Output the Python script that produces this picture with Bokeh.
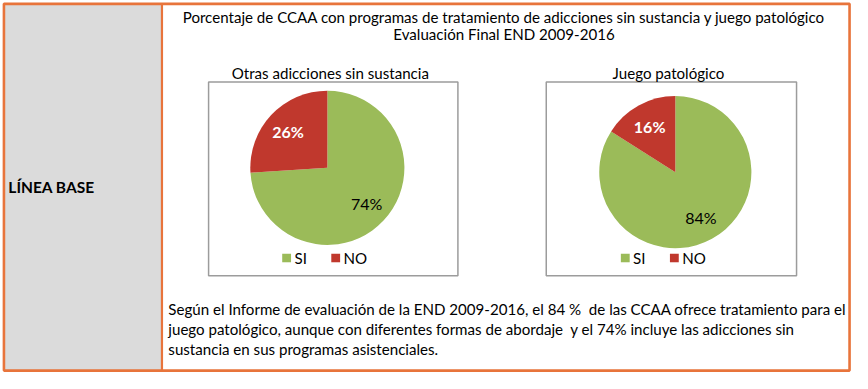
import math
from bokeh.plotting import figure
from bokeh.models import Range1d
from bokeh.core.properties import value
from bokeh.embed import file_html
from bokeh.resources import INLINE

# ---- data ----
categories = ["SI", "NO"]
otras_values = [74, 26]
juego_values = [84, 16]
chart_titles = ["Otras adicciones sin sustancia", "Juego patológico"]
colors = ["#9BBB59", "#C0382D"]
label_colors = ["#000000", "#FFFFFF"]
label_styles = ["normal", "bold"]
main_title = ["Porcentaje de CCAA con programas de tratamiento de adicciones sin sustancia y juego patológico",
              "Evaluación Final END 2009-2016"]
row_label = "LÍNEA BASE"
paragraph = ["Según el Informe de evaluación de la END 2009-2016, el 84 %\u00a0 de las CCAA ofrece tratamiento para el",
             "juego patológico, aunque con diferentes formas de abordaje\u00a0 y el 74% incluye las adicciones sin",
             "sustancia en sus programas asistenciales."]

FONT = "Lato"
RW, RH = 868, 389          # reference coordinate space
W, H = 852, 373            # figure size in pixels
FS = 15.1

p = figure(width=W, height=H, output_backend="svg", toolbar_location=None,
           x_range=Range1d(0, RW), y_range=Range1d(0, RH), min_border=0)
p.axis.visible = False
p.grid.visible = False
p.outline_line_color = None
p.background_fill_color = "white"

def Y(y):
    return RH - y

ORANGE = "#E8743B"
# left grey cell
p.quad(left=[4], right=[164], top=[Y(4)], bottom=[Y(386)], fill_color="#DBDBDB", line_color=None)
# borders
p.quad(left=[3.5], right=[865], top=[Y(3.5)], bottom=[Y(386)], fill_color=None,
       line_color=ORANGE, line_width=2.6)
p.segment(x0=[164.5], y0=[Y(3.5)], x1=[164.5], y1=[Y(386)], line_color=ORANGE, line_width=2.2)

def txt(x, y, t, size, align="left", color="#000000", style="normal"):
    p.text(x=[x], y=[Y(y)], text=[t], text_font=value(FONT), text_font_size=f"{size}px",
           text_align=align, text_baseline="middle", text_color=color, text_font_style=style)

txt(8, 194, row_label, 15.5, style="bold")
txt(513, 17, main_title[0], FS, align="center")
txt(513, 35, main_title[1], FS, align="center")
for i, line in enumerate(paragraph):
    txt(171, 322 + i * 20.5, line, FS)

boxes = [(212, 466), (556, 811)]
centers = [(333, 174.5, 78.5), (687.5, 179, 77.5)]
legend_x = [287, 632]
for k, vals in enumerate([otras_values, juego_values]):
    bx0, bx1 = boxes[k]
    p.quad(left=[bx0], right=[bx1], top=[Y(85)], bottom=[Y(287)], fill_color="white",
           line_color="#9C9C9C", line_width=1.5)
    txt((bx0 + bx1) / 2 - 3, 76, chart_titles[k], FS, align="center")
    cx, cy, r = centers[k]
    total = float(sum(vals))
    cum = 0.0
    for j, v in enumerate(vals):
        a0 = math.pi / 2 - 2 * math.pi * cum / total
        cum += v
        a1 = math.pi / 2 - 2 * math.pi * cum / total
        p.wedge(x=[cx], y=[Y(cy)], radius=r * W / RW, radius_units="screen",
                start_angle=[a0], end_angle=[a1], direction="clock",
                fill_color=colors[j], line_color=None)
        mid = (a0 + a1) / 2
        lx = cx + 0.7 * r * math.cos(mid)
        ly = cy - 0.7 * r * math.sin(mid)
        txt(lx, ly, f"{v}%", 16, align="center", color=label_colors[j], style=label_styles[j])
    lx0 = legend_x[k]
    for j, c in enumerate(categories):
        x0 = lx0 + j * 50
        p.quad(left=[x0], right=[x0 + 9], top=[Y(264)], bottom=[Y(273)], fill_color=colors[j],
               line_color=None)
        txt(x0 + 12.5, 268.5, c, FS)

open("out.html", "w").write(file_html(p, INLINE))
